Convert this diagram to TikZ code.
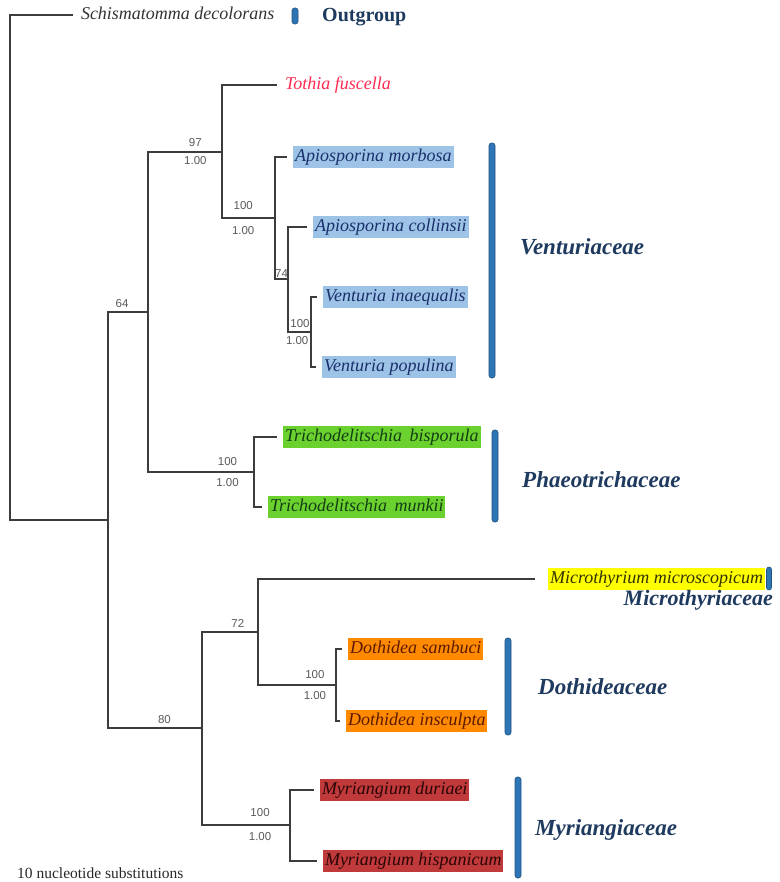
\documentclass[tikz,border=0pt]{standalone}
\usepackage{fontspec}
\setmainfont{Liberation Serif}
\newfontfamily\supfont{Liberation Sans}
\usepackage{xcolor}
\definecolor{branch}{HTML}{3C3C3C}
\definecolor{famblue}{HTML}{1F3A5F}
\definecolor{barblue}{HTML}{2E75B6}
\definecolor{ventfill}{HTML}{9DC3E6}
\definecolor{ventname}{HTML}{1B2F6B}
\definecolor{trifill}{HTML}{6AD12F}
\definecolor{triname}{HTML}{143D14}
\definecolor{dotfill}{HTML}{FF8A00}
\definecolor{dotname}{HTML}{5C1A00}
\definecolor{myrfill}{HTML}{C0393B}
\definecolor{myrname}{HTML}{2A0505}
\definecolor{micfill}{HTML}{FFFF00}
\definecolor{micname}{HTML}{333300}
\definecolor{tothred}{HTML}{FF2A50}

\begin{document}
\begin{tikzpicture}[
    x=1pt, y=-1pt,
    br/.style={draw=branch, line width=1.3pt},
    tip/.style={anchor=west, outer xsep=6pt, inner xsep=2pt, inner ysep=2.5pt, text height=13pt, text depth=4pt, font=\fontsize{18}{20}\selectfont\itshape},
    bs/.style={font=\supfont\fontsize{11.5}{13}\selectfont, text=black!65, inner sep=2pt},
    fam/.style={anchor=west, inner sep=0pt, text=famblue, font=\fontsize{23}{26}\selectfont\bfseries\itshape},
    grpbar/.style={fill=barblue, draw=barblue!70!black, line width=0.6pt, rounded corners=2.5pt, minimum width=6pt, inner sep=0pt}
  ]
    \useasboundingbox (0,0) rectangle (779,882);

    \node[tip, text=black!80] (schis) at (73,15) {Schismatomma decolorans};
    \node[tip, text=tothred] (tothia) at (277,85) {Tothia fuscella};
    \node[tip, fill=ventfill, text=ventname] (amor) at (287,157) {Apiosporina morbosa};
    \node[tip, fill=ventfill, text=ventname] (acol) at (307,227) {Apiosporina collinsii};
    \node[tip, fill=ventfill, text=ventname] (vina) at (317,297) {Venturia inaequalis};
    \node[tip, fill=ventfill, text=ventname] (vpop) at (316,367) {Venturia populina};
    \node[tip, fill=trifill, text=triname] (tbis) at (277,437) {Trichodelitschia\, bisporula};
    \node[tip, fill=trifill, text=triname] (tmun) at (262,507) {Trichodelitschia\, munkii};
    \node[tip, fill=micfill, text=micname, outer xsep=13pt] (micro) at (535,579) {Microthyrium microscopicum};
    \node[tip, fill=dotfill, text=dotname] (dsam) at (342,649) {Dothidea sambuci};
    \node[tip, fill=dotfill, text=dotname] (dins) at (340,721) {Dothidea insculpta};
    \node[tip, fill=myrfill, text=myrname] (mdur) at (314,790) {Myriangium duriaei};
    \node[tip, fill=myrfill, text=myrname] (mhis) at (317,861) {Myriangium hispanicum};

    \coordinate (root) at (10,267);
    \coordinate (ing) at (108,520);
    \coordinate (up) at (148,312);
    \coordinate (n97) at (222,152);
    \coordinate (napi) at (275,218);
    \coordinate (n74) at (288,279);
    \coordinate (nven) at (311,332);
    \coordinate (ntri) at (254,472);
    \coordinate (low) at (202,728);
    \coordinate (n72) at (258,632);
    \coordinate (ndot) at (336,685);
    \coordinate (nmyr) at (290,825);

    \draw[br] (root) |- (schis.west);
    \draw[br] (root) |- (ing);
    \draw[br] (ing) |- node[bs, pos=.675, above=1.5pt] (s64) {64} (up);
    \draw[br] (ing) |- node[bs, pos=.8, above=1.5pt] (s80) {80} (low);
    \draw[br] (up) |- node[bs, pos=.82, above=3pt] (s97) {97} node[bs, pos=.82, below=2pt] (p97) {1.00} (n97);
    \draw[br] (up) |- node[bs, pos=.875, above=4pt] (stri) {100} node[bs, pos=.875, below=4pt] (ptri) {1.00} (ntri);
    \draw[br] (n97) |- (tothia.west);
    \draw[br] (n97) |- node[bs, pos=.7, above=6pt] (sapi) {100} node[bs, pos=.7, below=6pt] (papi) {1.00} (napi);
    \draw[br] (napi) |- (amor.west);
    \draw[br] (napi) |- node[bs, pos=.75, above, inner sep=1pt] (s74) {74} (n74);
    \draw[br] (n74) |- (acol.west);
    \draw[br] (n74) |- node[bs, pos=.76, above=3pt, inner sep=1pt] (sven) {100} node[bs, pos=.7, below=3pt, inner sep=1pt] (pven) {1.00} (nven);
    \draw[br] (nven) |- (vina.west);
    \draw[br] (nven) |- (vpop.west);
    \draw[br] (ntri) |- (tbis.west);
    \draw[br] (ntri) |- (tmun.west);
    \draw[br] (low) |- node[bs, pos=.82, above=1.5pt] (s72) {72} (n72);
    \draw[br] (low) |- node[bs, pos=.83, above=6pt] (smyr) {100} node[bs, pos=.83, below=5pt] (pmyr) {1.00} (nmyr);
    \draw[br] (n72) |- (micro.west);
    \draw[br] (n72) |- node[bs, pos=.865, above=4pt] (sdot) {100} node[bs, pos=.865, below=4pt] (pdot) {1.00} (ndot);
    \draw[br] (ndot) |- (dsam.west);
    \draw[br] (ndot) |- (dins.west);
    \draw[br] (nmyr) |- (mdur.west);
    \draw[br] (nmyr) |- (mhis.west);

    \node[grpbar, minimum height=16pt] (outbar) at (295,16) {};
    \node[grpbar, minimum height=235pt] (ventbar) at (492,260.5) {};
    \node[grpbar, minimum height=92pt] (phaebar) at (495,476) {};
    \node[grpbar, minimum height=23pt, minimum width=5pt] (micbar) at (769,578.5) {};
    \node[grpbar, minimum height=97pt] (dotbar) at (508,686.5) {};
    \node[grpbar, minimum height=101pt] (myrbar) at (518,827.5) {};

    \node[fam, font=\fontsize{20}{22}\selectfont\bfseries] (outg) at (322,17) {Outgroup};
    \node[fam] (vent) at (520,247) {Venturiaceae};
    \node[fam] (phae) at (522,480) {Phaeotrichaceae};
    \node[fam, anchor=east, font=\fontsize{22}{24}\selectfont\bfseries\itshape] (mict) at (773,600) {Microthyriaceae};
    \node[fam] (doth) at (538,687) {Dothideaceae};
    \node[fam] (myri) at (535,830) {Myriangiaceae};

    \node[anchor=west, inner sep=2pt, text=black!85, font=\fontsize{15.5}{17}\selectfont] (scale) at (15,873) {10 nucleotide substitutions};
  \end{tikzpicture}
\end{document}
